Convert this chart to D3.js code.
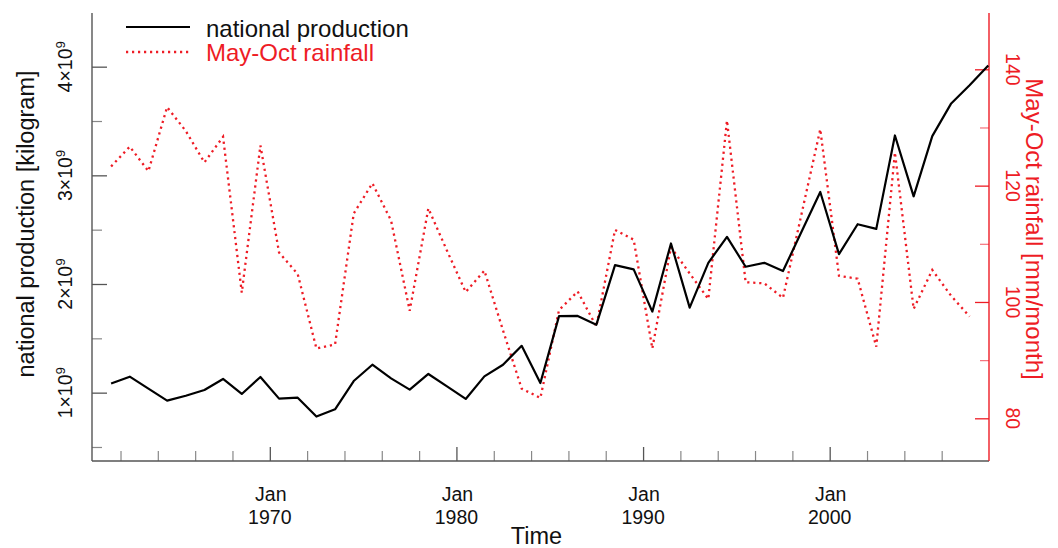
<!DOCTYPE html>
<html>
<head>
<meta charset="utf-8">
<script src="https://cdn.jsdelivr.net/npm/d3@7"></script>
<style>
  body { margin: 0; background: #fff; }
  svg { display: block; }
  text { font-family: "Liberation Sans", Arial, Helvetica, sans-serif; }
</style>
</head>
<body>
<svg id="chart" width="1058" height="548"></svg>
<script>
// ---------------- data ----------------
const prodYears = [1961,1962,1963,1964,1965,1966,1967,1968,1969,1970,1971,1972,1973,1974,1975,1976,1977,1978,1979,1980,
  1981,1982,1983,1984,1985,1986,1987,1988,1989,1990,1991,1992,1993,1994,1995,1996,1997,1998,1999,2000,
  2001,2002,2003,2004,2005,2006,2007,2008];
// national production, in units of 1e9 kg
const production = [1.085,1.147,1.037,0.927,0.972,1.025,1.126,0.988,1.144,0.945,0.954,0.780,0.847,1.107,1.257,1.131,1.028,1.172,1.058,0.942,
  1.150,1.257,1.431,1.089,1.704,1.706,1.624,2.174,2.135,1.746,2.373,1.783,2.195,2.434,2.159,2.195,2.119,2.483,2.847,2.275,
  2.550,2.507,3.367,2.807,3.361,3.658,3.829,4.010];
const rainYears = [1961,1962,1963,1964,1965,1966,1967,1968,1969,1970,1971,1972,1973,1974,1975,1976,1977,1978,1979,1980,
  1981,1982,1983,1984,1985,1986,1987,1988,1989,1990,1991,1992,1993,1994,1995,1996,1997,1998,1999,2000,
  2001,2002,2003,2004,2005,2006,2007];
// May-Oct rainfall, mm/month
const rainfall = [123.3,126.7,122.5,133.5,129.4,124.0,128.4,101.6,126.9,108.5,104.8,92.0,92.7,115.2,120.4,114.0,98.5,116.1,108.8,101.7,
  105.4,95.1,85.1,83.5,98.6,101.8,95.8,112.4,110.7,92.0,109.4,104.9,100.5,131.2,103.4,103.2,100.7,115.2,129.7,104.5,
  104.0,92.3,125.7,98.8,105.5,101.1,97.5];

const leftMajor = [1, 2, 3, 4];          // ×10^9
const leftMinor = [0.5, 1.5, 2.5, 3.5];
const rightMajor = [80, 100, 120, 140];
const rightMinor = [90, 110, 130];
const xMajorYears = [1970, 1980, 1990, 2000];
const xMinorYears = [1962,1964,1966,1968,1972,1974,1976,1978,1982,1984,1986,1988,1992,1994,1996,1998,2002,2004,2006];

const legendLabels = ["national production", "May-Oct rainfall"];
const titles = { x: "Time", left: "national production [kilogram]", right: "May-Oct rainfall [mm/month]" };

// ---------------- layout ----------------
const L = 92, R = 989, T = 13, B = 461;
const RED = "#ee1c25", AXIS = "#555";
const svg = d3.select("#chart");

const x = d3.scaleTime()
  .domain([new Date(1960, 5, 22), new Date(2008, 6, 15)])
  .range([L, R]);
const yL = d3.scaleLinear().domain([0.371, 4.494]).range([B, T]);
const yR = d3.scaleLinear().domain([72.66, 149.68]).range([B, T]);
const mid = yr => new Date(yr, 6, 1);

// ---------------- axes ----------------
// left
svg.append("g").attr("transform", `translate(${L},0)`)
  .call(d3.axisLeft(yL).tickValues(leftMajor).tickSize(-15).tickFormat(""))
  .call(g => { g.select(".domain").remove(); g.selectAll("line").attr("stroke", AXIS).attr("stroke-width", 1.3); });
svg.append("g").attr("transform", `translate(${L},0)`)
  .call(d3.axisLeft(yL).tickValues(leftMinor).tickSize(-10).tickFormat(""))
  .call(g => { g.select(".domain").remove(); g.selectAll("line").attr("stroke", "#888").attr("stroke-width", 1.2); });
// bottom
svg.append("g").attr("transform", `translate(0,${B})`)
  .call(d3.axisBottom(x).tickValues(xMajorYears.map(yy => new Date(yy, 0, 1))).tickSize(-14).tickFormat(""))
  .call(g => { g.select(".domain").remove(); g.selectAll("line").attr("stroke", AXIS).attr("stroke-width", 1.3); });
svg.append("g").attr("transform", `translate(0,${B})`)
  .call(d3.axisBottom(x).tickValues(xMinorYears.map(yy => new Date(yy, 0, 1))).tickSize(-10).tickFormat(""))
  .call(g => { g.select(".domain").remove(); g.selectAll("line").attr("stroke", "#888").attr("stroke-width", 1.2); });
// right
svg.append("g").attr("transform", `translate(${R},0)`)
  .call(d3.axisRight(yR).tickValues(rightMajor).tickSize(-14).tickFormat(""))
  .call(g => { g.select(".domain").remove(); g.selectAll("line").attr("stroke", RED).attr("stroke-width", 1.3); });
svg.append("g").attr("transform", `translate(${R},0)`)
  .call(d3.axisRight(yR).tickValues(rightMinor).tickSize(-9).tickFormat(""))
  .call(g => { g.select(".domain").remove(); g.selectAll("line").attr("stroke", "#f5707a").attr("stroke-width", 1.2); });

// axis lines
svg.append("line").attr("x1", L).attr("x2", L).attr("y1", T).attr("y2", B).attr("stroke", AXIS).attr("stroke-width", 1.4);
svg.append("line").attr("x1", L).attr("x2", R).attr("y1", B).attr("y2", B).attr("stroke", AXIS).attr("stroke-width", 1.4);
svg.append("line").attr("x1", R).attr("x2", R).attr("y1", T).attr("y2", B).attr("stroke", RED).attr("stroke-width", 1.4);

// left tick labels (rotated, with superscript exponent)
leftMajor.forEach(v => {
  const t = svg.append("text")
    .attr("transform", `translate(72,${yL(v)}) rotate(-90)`)
    .attr("text-anchor", "middle").attr("font-size", 19.5).attr("fill", "#111");
  t.append("tspan").text(v + "×10");
  t.append("tspan").attr("font-size", 13.5).attr("dy", -7.5).text("9");
});
// right tick labels
rightMajor.forEach(v => {
  svg.append("text")
    .attr("transform", `translate(1006,${yR(v)}) rotate(90)`)
    .attr("text-anchor", "middle").attr("font-size", 19.5).attr("fill", RED)
    .text(v);
});
// bottom tick labels
xMajorYears.forEach(yy => {
  const t = svg.append("text").attr("text-anchor", "middle").attr("font-size", 19.5).attr("fill", "#111");
  t.append("tspan").attr("x", x(new Date(yy, 0, 1))).attr("y", 500.5).attr("dx", 1).text("Jan");
  t.append("tspan").attr("x", x(new Date(yy, 0, 1))).attr("y", 524).text(yy);
});

// titles
svg.append("text").attr("x", (L + R) / 2 - 4).attr("y", 544).attr("text-anchor", "middle")
  .attr("font-size", 23.5).attr("fill", "#111").text(titles.x);
svg.append("text").attr("transform", `translate(34,224) rotate(-90)`).attr("text-anchor", "middle")
  .attr("font-size", 23.5).attr("fill", "#111").text(titles.left);
svg.append("text").attr("transform", `translate(1026,229) rotate(90)`).attr("text-anchor", "middle")
  .attr("font-size", 24).attr("fill", RED).text(titles.right);

// ---------------- series ----------------
const prodLine = d3.line().x((d, i) => x(mid(prodYears[i]))).y(d => yL(d));
const rainLine = d3.line().x((d, i) => x(mid(rainYears[i]))).y(d => yR(d));

svg.append("path").datum(rainfall).attr("d", rainLine)
  .attr("fill", "none").attr("stroke", RED).attr("stroke-width", 2.3)
  .attr("stroke-dasharray", "2.2,3.8");
svg.append("path").datum(production).attr("d", prodLine)
  .attr("fill", "none").attr("stroke", "#000").attr("stroke-width", 2.2)
  .attr("stroke-linejoin", "round");

// ---------------- legend ----------------
svg.append("line").attr("x1", 126).attr("x2", 190).attr("y1", 27).attr("y2", 27)
  .attr("stroke", "#000").attr("stroke-width", 2.2);
svg.append("line").attr("x1", 126).attr("x2", 190).attr("y1", 52).attr("y2", 52)
  .attr("stroke", RED).attr("stroke-width", 2.3).attr("stroke-dasharray", "2.2,3.8");
svg.append("text").attr("x", 206).attr("y", 36.5).attr("font-size", 24).attr("fill", "#111").text(legendLabels[0]);
svg.append("text").attr("x", 206).attr("y", 61).attr("font-size", 24).attr("fill", RED).text(legendLabels[1]);
</script>
</body>
</html>
